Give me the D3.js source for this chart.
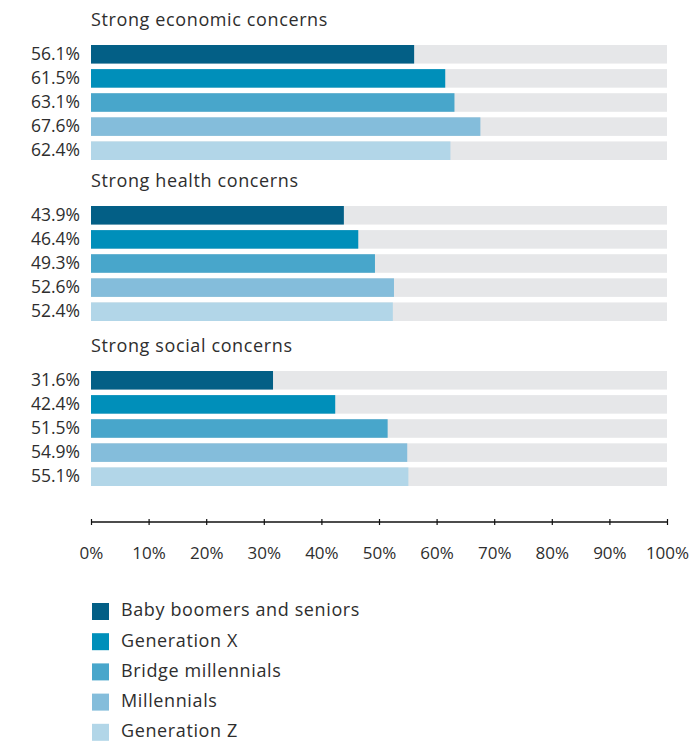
<!DOCTYPE html>
<html>
<head>
<meta charset="utf-8">
<script src="https://cdn.jsdelivr.net/npm/d3@7"></script>
<style>
  html, body { margin: 0; padding: 0; background: #fff; }
  svg { display: block; font-family: "Open Sans", sans-serif; }
</style>
</head>
<body>
<svg id="chart" width="693" height="741"></svg>
<script>
// ---- data ----
const groups = ["Strong economic concerns", "Strong health concerns", "Strong social concerns"];
const series = ["Baby boomers and seniors", "Generation X", "Bridge millennials", "Millennials", "Generation Z"];
const economic = [56.1, 61.5, 63.1, 67.6, 62.4];
const health = [43.9, 46.4, 49.3, 52.6, 52.4];
const social = [31.6, 42.4, 51.5, 54.9, 55.1];
const colors = ["#035f86", "#008fba", "#48a6cb", "#84bddb", "#b2d6e8"];
const tickValues = [0, 10, 20, 30, 40, 50, 60, 70, 80, 90, 100];

const values = [economic, health, social];

// ---- layout ----
const svg = d3.select("#chart");
const textColor = "#2e2e2e";
const x = d3.scaleLinear().domain([0, 100]).range([91, 667]);
const groupTop = d3.scaleOrdinal().domain(groups).range([45, 206, 371]);
const rowY = d3.scaleBand().domain(series).range([0, 115]).paddingInner(0.23).paddingOuter(0);
const fmt = v => v.toFixed(1) + "%";

groups.forEach((g, gi) => {
  const G = svg.append("g").attr("transform", `translate(0,${groupTop(g)})`);
  G.append("text")
    .attr("x", 91).attr("y", -19)
    .attr("fill", textColor)
    .style("font-size", "18px")
    .style("letter-spacing", "0.62px")
    .text(g);
  const rows = G.selectAll("g.row").data(series.map((s, i) => ({ s, v: values[gi][i], c: colors[i] })))
    .join("g").attr("class", "row")
    .attr("transform", d => `translate(0,${rowY(d.s)})`);
  rows.append("rect")
    .attr("x", x(0)).attr("y", 0)
    .attr("width", x(100) - x(0)).attr("height", rowY.bandwidth())
    .attr("fill", "#e6e7e9");
  rows.append("rect")
    .attr("x", x(0)).attr("y", 0)
    .attr("width", d => x(d.v) - x(0)).attr("height", rowY.bandwidth())
    .attr("fill", d => d.c);
  rows.append("text")
    .attr("x", 80).attr("y", rowY.bandwidth() / 2 + 1)
    .attr("text-anchor", "end")
    .attr("dominant-baseline", "middle")
    .attr("fill", textColor)
    .style("font-size", "17.5px")
    .text(d => fmt(d.v));
});

// ---- axis ----
const axisY = 522;
const axis = svg.append("g").attr("transform", `translate(0,${axisY})`);
axis.call(d3.axisBottom(x).tickValues(tickValues).tickSize(3).tickPadding(22).tickFormat(d => d + "%"));
axis.select(".domain").attr("d", `M${x(0)},0H${x(100)}`).attr("stroke", "#111").attr("stroke-width", 1.5);
axis.selectAll(".tick line").attr("y1", -3).attr("y2", 3).attr("stroke", "#111").attr("stroke-width", 1.2);
axis.selectAll(".tick text")
  .attr("fill", textColor)
  .style("font-family", "'Open Sans', sans-serif")
  .style("font-size", "17px");

// ---- legend ----
const legendY = d3.scaleBand().domain(series).range([603, 754]).paddingInner(0);
const legend = svg.append("g");
const li = legend.selectAll("g").data(series).join("g")
  .attr("transform", d => `translate(92,${legendY(d)})`);
li.append("rect").attr("width", 17).attr("height", 17).attr("fill", (d, i) => colors[i]);
li.append("text")
  .attr("x", 29).attr("y", 8.5)
  .attr("dominant-baseline", "middle")
  .attr("fill", textColor)
  .style("font-size", "18px")
  .style("letter-spacing", "0.62px")
  .text(d => d);
</script>
</body>
</html>
